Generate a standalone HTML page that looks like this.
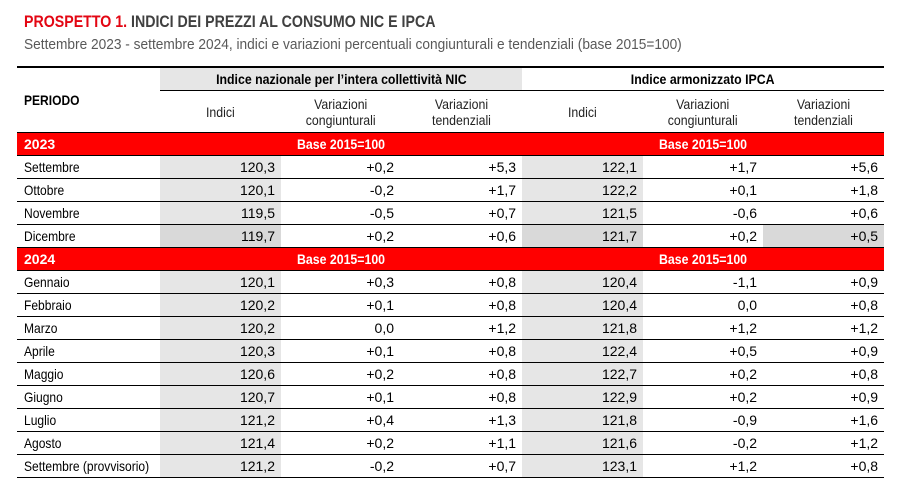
<!DOCTYPE html>
<html><head><meta charset="utf-8"><style>
body{margin:0;width:899px;height:496px;background:#fff;font-family:"Liberation Sans",sans-serif;color:#000;overflow:hidden;position:relative}
.t1{position:absolute;left:24px;top:12px;font-size:17px;font-weight:bold;color:#404040;white-space:nowrap;transform:scaleX(0.835);transform-origin:left top}
.t1 span{color:#e30613}
.t2{position:absolute;left:24px;top:37px;font-size:14.5px;color:#595959;white-space:nowrap;transform:scaleX(0.945);transform-origin:left top}
table{position:absolute;left:17px;top:66px;border-collapse:collapse;table-layout:fixed;width:867px;font-size:14px}
td{padding:0 6px;height:22px;border-bottom:1px solid #000;text-align:right;white-space:nowrap;overflow:visible}
td.l{text-align:left;padding-left:7px}
.g{background:#e6e6e6}
.g2{background:#d9d9d9}
.red td{background:#ff0000;color:#fff;font-weight:bold;text-align:center}
.red td.l{text-align:left}
.h td{text-align:center;color:#222;line-height:16px}
.n{display:inline-block;transform:scaleX(0.88);transform-origin:center}
.nl{display:inline-block;transform:scaleX(0.86);transform-origin:left}
</style></head><body>
<div class="t1"><span>PROSPETTO 1.</span> INDICI DEI PREZZI AL CONSUMO NIC E IPCA</div>
<div class="t2">Settembre 2023 - settembre 2024, indici e variazioni percentuali congiunturali e tendenziali (base 2015=100)</div>
<table>
<colgroup><col style="width:143px"><col style="width:121px"><col style="width:119px"><col style="width:122px"><col style="width:121px"><col style="width:120px"><col style="width:121px"></colgroup>
<tr style="border-top:2px solid #000"><td class="l" rowspan="2" style="font-weight:bold;vertical-align:top;padding-top:24px;height:auto"><span class="nl">PERIODO</span></td>
<td colspan="3" class="g" style="text-align:center;font-weight:bold;height:22px"><span class="n">Indice nazionale per l’intera collettività NIC</span></td>
<td colspan="3" style="text-align:center;font-weight:bold"><span class="n">Indice armonizzato IPCA</span></td></tr>
<tr class="h"><td style="height:41px"><span class="n">Indici</span></td><td><span class="n">Variazioni<br>congiunturali</span></td><td><span class="n">Variazioni<br>tendenziali</span></td><td><span class="n">Indici</span></td><td><span class="n">Variazioni<br>congiunturali</span></td><td><span class="n">Variazioni<br>tendenziali</span></td></tr>
<tr class="red"><td class="l">2023</td><td colspan="3"><span class="n">Base 2015=100</span></td><td colspan="3"><span class="n">Base 2015=100</span></td></tr>
<tr><td class="l"><span class="nl">Settembre</span></td><td class="g">120,3</td><td>+0,2</td><td>+5,3</td><td class="g">122,1</td><td>+1,7</td><td>+5,6</td></tr>
<tr><td class="l"><span class="nl">Ottobre</span></td><td class="g">120,1</td><td>-0,2</td><td>+1,7</td><td class="g">122,2</td><td>+0,1</td><td>+1,8</td></tr>
<tr><td class="l"><span class="nl">Novembre</span></td><td class="g">119,5</td><td>-0,5</td><td>+0,7</td><td class="g">121,5</td><td>-0,6</td><td>+0,6</td></tr>
<tr><td class="l"><span class="nl">Dicembre</span></td><td class="g2">119,7</td><td>+0,2</td><td>+0,6</td><td class="g2">121,7</td><td>+0,2</td><td class="g2">+0,5</td></tr>
<tr class="red"><td class="l">2024</td><td colspan="3"><span class="n">Base 2015=100</span></td><td colspan="3"><span class="n">Base 2015=100</span></td></tr>
<tr><td class="l"><span class="nl">Gennaio</span></td><td class="g">120,1</td><td>+0,3</td><td>+0,8</td><td class="g">120,4</td><td>-1,1</td><td>+0,9</td></tr>
<tr><td class="l"><span class="nl">Febbraio</span></td><td class="g">120,2</td><td>+0,1</td><td>+0,8</td><td class="g">120,4</td><td>0,0</td><td>+0,8</td></tr>
<tr><td class="l"><span class="nl">Marzo</span></td><td class="g">120,2</td><td>0,0</td><td>+1,2</td><td class="g">121,8</td><td>+1,2</td><td>+1,2</td></tr>
<tr><td class="l"><span class="nl">Aprile</span></td><td class="g">120,3</td><td>+0,1</td><td>+0,8</td><td class="g">122,4</td><td>+0,5</td><td>+0,9</td></tr>
<tr><td class="l"><span class="nl">Maggio</span></td><td class="g">120,6</td><td>+0,2</td><td>+0,8</td><td class="g">122,7</td><td>+0,2</td><td>+0,8</td></tr>
<tr><td class="l"><span class="nl">Giugno</span></td><td class="g">120,7</td><td>+0,1</td><td>+0,8</td><td class="g">122,9</td><td>+0,2</td><td>+0,9</td></tr>
<tr><td class="l"><span class="nl">Luglio</span></td><td class="g">121,2</td><td>+0,4</td><td>+1,3</td><td class="g">121,8</td><td>-0,9</td><td>+1,6</td></tr>
<tr><td class="l"><span class="nl">Agosto</span></td><td class="g">121,4</td><td>+0,2</td><td>+1,1</td><td class="g">121,6</td><td>-0,2</td><td>+1,2</td></tr>
<tr><td class="l"><span class="nl">Settembre (provvisorio)</span></td><td class="g">121,2</td><td>-0,2</td><td>+0,7</td><td class="g">123,1</td><td>+1,2</td><td>+0,8</td></tr>
</table>
</body></html>
